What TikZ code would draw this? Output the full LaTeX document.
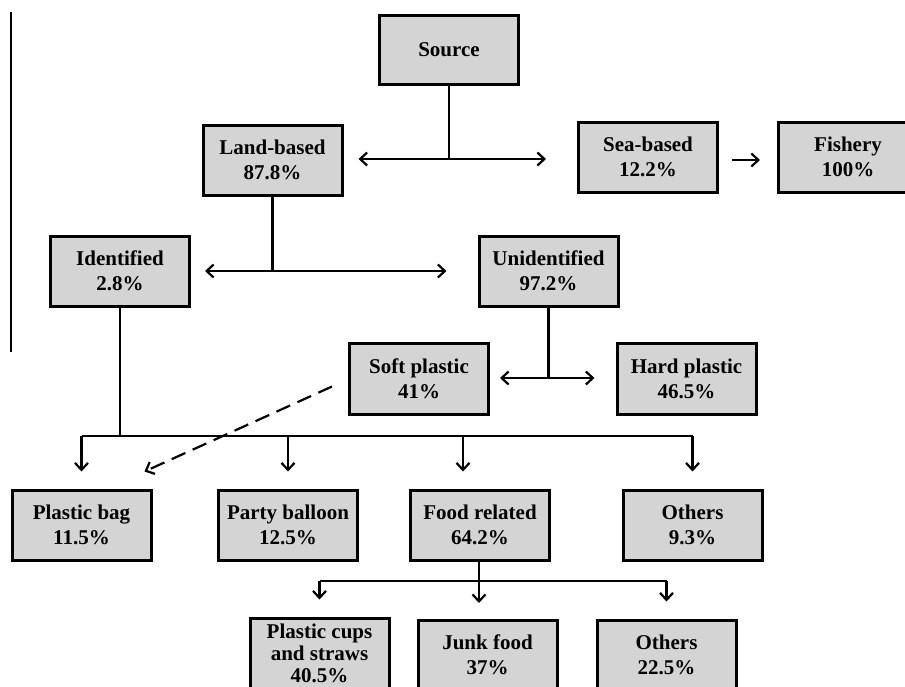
\documentclass[tikz,border=0pt]{standalone}
\usepackage{fontspec}
\setmainfont{Liberation Serif}
\usetikzlibrary{arrows.meta}
\definecolor{boxgray}{RGB}{212,212,212}
\begin{document}
\begin{tikzpicture}[x=1pt,y=-1pt,
  box/.style={draw=black,line width=3pt,fill=boxgray,minimum width=139pt,minimum height=70pt,inner sep=0pt,align=center,font=\fontsize{21}{25}\selectfont\bfseries},
  conn/.style={line width=2.2pt},
  tipline/.style={conn,-{Straight Barb[length=7pt,width=13pt]}},
  dashconn/.style={conn,dash pattern=on 15pt off 8pt,-{Straight Barb[length=7pt,width=13pt]}}]
\clip (0,0) rectangle (905,686);
\fill[white] (0,0) rectangle (905,686);
% left artifact line
\draw[line width=1.5pt] (11,12) -- (11,352);
% nodes
\node[box,minimum height=69pt] (source) at (449,49.5) {Source};
\node[box] (land) at (272.5,160) {Land-based\\87.8\%};
\node[box] (sea) at (648,157) {Sea-based\\12.2\%};
\node[box] (fish) at (848,157) {Fishery\\100\%};
\node[box] (ident) at (120,271) {Identified\\2.8\%};
\node[box] (unid) at (548.5,271) {Unidentified\\97.2\%};
\node[box,minimum height=71pt] (soft) at (419,378.5) {Soft plastic\\41\%};
\node[box,minimum height=71pt] (hard) at (686.5,378.5) {Hard plastic\\46.5\%};
\node[box] (bag) at (81.5,525) {Plastic bag\\11.5\%};
\node[box] (party) at (288,525) {Party balloon\\12.5\%};
\node[box] (food) at (480,525) {Food related\\64.2\%};
\node[box] (oth1) at (692.5,525) {Others\\9.3\%};
\node[box,font=\fontsize{21}{22}\selectfont\bfseries] (cups) at (319.5,653) {Plastic cups\\and straws\\40.5\%};
\node[box] (junk) at (487.5,655) {Junk food\\37\%};
\node[box] (oth2) at (666.5,655) {Others\\22.5\%};
% junction coordinates
\coordinate (j1) at (449,159);
\coordinate (j2) at (272.5,271);
\coordinate (j3) at (548.5,378);
\coordinate (j4) at (120,436);
\coordinate (j5) at (479,581);
% source split
\draw[conn] (source.south) -- (j1);
\draw[tipline] (j1) -- ([xshift=15pt]land.east |- j1);
\draw[tipline] (j1) -- ([xshift=-31pt]sea.west |- j1);
\draw[tipline] ([xshift=13pt]sea.east |- 0,160) -- ([xshift=-17pt]fish.west |- 0,160);
% land split
\draw[conn] (land.south) -- (j2);
\draw[tipline] (j2) -- ([xshift=14pt]ident.east |- j2);
\draw[tipline] (j2) -- ([xshift=-31pt]unid.west |- j2);
% unidentified split
\draw[conn] (unid.south) -- (j3);
\draw[tipline] (j3) -- ([xshift=10pt]soft.east |- j3);
\draw[tipline] (j3) -- ([xshift=-21pt]hard.west |- j3);
% identified split
\draw[conn] (ident.south) -- (j4);
\draw[conn] (bag.north |- j4) -- (oth1.north |- j4);
\draw[tipline] (bag.north |- j4) -- ([yshift=17pt]bag.north);
\draw[tipline] (party.north |- j4) -- ([yshift=17pt]party.north);
\draw[tipline] ([xshift=-17pt]food.north |- j4) -- ([xshift=-17pt,yshift=17pt]food.north);
\draw[tipline] (oth1.north |- j4) -- ([yshift=17pt]oth1.north);
% dashed soft -> bag
\draw[dashconn] ([xshift=-16pt,yshift=-8pt]soft.west) -- ([xshift=-8pt,yshift=17pt]bag.north east);
% food split
\draw[conn] (j5 |- food.south) -- (j5);
\draw[conn] (cups.north |- j5) -- (oth2.north |- j5);
\draw[tipline] (cups.north |- j5) -- ([yshift=17pt]cups.north);
\draw[tipline] (j5) -- (j5 |- 0,603);
\draw[tipline] (oth2.north |- j5) -- ([yshift=17pt]oth2.north);
\end{tikzpicture}
\end{document}
